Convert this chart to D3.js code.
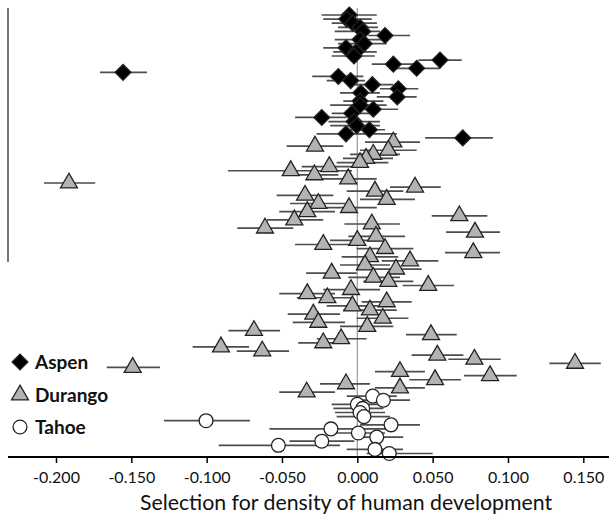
<!DOCTYPE html>
<html><head><meta charset="utf-8">
<script src="https://cdn.jsdelivr.net/npm/d3@7"></script>
<style>body{margin:0;background:#fff}svg{display:block}</style>
</head><body><svg id="c" width="609" height="518"></svg>
<script>
// ---- data (estimates: value, lower CI, upper CI), ordered top to bottom ----
const seriesNames = ["Aspen", "Durango", "Tahoe"];
const aspenVal = [-0.0053,-0.007,-0.003,0.0018,0.0036,0.0184,0.0018,0.0046,-0.0075,-0.0009,-0.0022,0.0549,0.0239,0.0394,-0.1555,-0.0126,-0.0044,0.010,0.0272,0.0023,0.0265,0.0018,0.0018,0.0106,-0.0037,-0.0236,-0.0022,-0.0004,0.008,-0.0075,0.070];
const aspenLo  = [-0.0237,-0.0226,-0.017,-0.0128,-0.015,0.0073,-0.015,-0.0128,-0.0226,-0.016,-0.017,0.0405,0.0096,0.025,-0.1708,-0.0299,-0.0203,-0.0027,0.015,-0.0115,0.0129,-0.0093,-0.018,-0.0004,-0.017,-0.0413,-0.0192,-0.018,-0.0082,-0.027,0.045];
const aspenHi  = [0.0129,0.0096,0.013,0.0137,0.015,0.035,0.0195,0.0195,0.0073,0.0129,0.0117,0.0693,0.0405,0.0549,-0.1396,0.004,0.0051,0.0239,0.0405,0.015,0.0394,0.0173,0.0195,0.0272,0.0129,-0.007,0.015,0.015,0.0184,0.0262,0.090];
const durangoVal = [0.0239,-0.0281,0.0206,0.0106,0.0058,0.0018,-0.0186,-0.0442,-0.0285,-0.006,-0.1914,0.0383,0.0117,-0.0347,0.0195,-0.0259,-0.0055,-0.0332,0.0677,-0.0418,0.0096,-0.0613,0.0781,0.0124,0.000,-0.0226,0.0184,0.077,0.0084,0.035,0.0051,0.0257,-0.017,0.0106,0.0206,0.0471,-0.0042,-0.0332,-0.0199,0.0195,-0.0033,0.0084,-0.0292,0.0169,-0.0259,0.0066,-0.0686,0.0489,-0.0108,-0.0226,-0.0905,-0.0631,0.0531,0.0777,0.1445,-0.1491,0.0283,0.0881,0.0516,-0.0075,0.0283,-0.0336];
const durangoLo  = [0.0051,-0.0469,0.0018,-0.0048,-0.0095,-0.0137,-0.0369,-0.0858,-0.0402,-0.0236,-0.2079,0.0217,-0.007,-0.0535,0.0018,-0.0447,-0.0226,-0.0518,0.0494,-0.0601,-0.0086,-0.0797,0.0589,-0.006,-0.0181,-0.0414,-0.0004,0.0582,-0.0104,0.0162,-0.0115,0.0062,-0.034,-0.006,0.004,0.0301,-0.0226,-0.0518,-0.0402,0.0029,-0.0203,-0.0093,-0.0462,-0.0004,-0.0429,-0.0115,-0.0856,0.0323,-0.027,-0.0392,-0.1093,-0.080,0.0361,0.0604,0.1275,-0.1663,0.0117,0.0708,0.0345,-0.0248,0.0117,-0.0518];
const durangoHi  = [0.0416,-0.0093,0.0394,0.0283,0.0237,0.0206,-0.0027,-0.0035,-0.0126,0.0129,-0.174,0.0554,0.0305,-0.0159,0.0383,-0.0082,0.0129,-0.0148,0.0863,-0.0226,0.0283,-0.0425,0.0947,0.0317,0.0173,-0.0048,0.0372,0.0947,0.0272,0.0538,0.0217,0.0427,-0.0004,0.0283,0.0372,0.0642,0.0151,-0.0148,-0.0027,0.0361,0.0151,0.0262,-0.0115,0.0339,-0.0082,0.0239,-0.0513,0.066,0.0062,-0.006,-0.0719,-0.0453,0.0704,0.0952,0.1616,-0.131,0.0449,0.1058,0.0688,0.0084,0.0449,-0.0148];
const tahoeVal = [0.0102,0.0173,0.000,0.0036,0.0018,0.0044,-0.1004,0.0224,-0.0175,0.0007,0.0129,-0.0236,-0.0524,0.0117,0.0212];
const tahoeLo  = [-0.007,0.0029,-0.017,-0.0159,-0.0148,-0.0137,-0.1283,0.0018,-0.0583,-0.016,0.003,-0.045,-0.092,-0.007,0.0062];
const tahoeHi  = [0.0262,0.035,0.015,0.0173,0.0184,0.0217,-0.0713,0.0416,0.023,0.0184,0.0305,-0.002,-0.0115,0.0303,0.050];
const tickValues = [-0.2,-0.15,-0.1,-0.05,0,0.05,0.1,0.15];
const axisTitle = "Selection for density of human development";

// ---- build rows ----
const rows = [];
[[aspenVal,aspenLo,aspenHi],[durangoVal,durangoLo,durangoHi],[tahoeVal,tahoeLo,tahoeHi]].forEach((s,si)=>{
  s[0].forEach((v,i)=>rows.push({series:seriesNames[si], v:v, lo:s[1][i], hi:s[2][i], id:rows.length}));
});

const svg = d3.select("#c");
const font = "Lato, 'Open Sans', sans-serif";
const x = d3.scaleLinear().domain([-0.2, 0.15]).range([56, 583.3]);
const y = d3.scalePoint().domain(rows.map(d=>d.id)).range([15, 453.5]);
const axisY = 457;

// left vertical line
svg.append("line").attr("x1",8).attr("x2",8).attr("y1",8).attr("y2",262)
  .attr("stroke","#555").attr("stroke-width",1.6);
// zero reference line
svg.append("line").attr("x1",x(0)).attr("x2",x(0)).attr("y1",8).attr("y2",axisY)
  .attr("stroke","#999").attr("stroke-width",1.2);

// error bars
svg.append("g").selectAll("line").data(rows).join("line")
  .attr("x1",d=>x(d.lo)).attr("x2",d=>x(d.hi))
  .attr("y1",d=>y(d.id)).attr("y2",d=>y(d.id))
  .attr("stroke","#4d4d4d").attr("stroke-width",1.7);

const shape = {Aspen:d3.symbolSquare, Durango:d3.symbolTriangle, Tahoe:d3.symbolCircle};
const size = {Aspen:125, Durango:125, Tahoe:150};
const fill = {Aspen:"#000", Durango:"#b3b3b3", Tahoe:"#fff"};
const rot = {Aspen:" rotate(45)", Durango:"", Tahoe:""};
const markers = svg.append("g");
rows.forEach(d=>{
  const sym = d3.symbol().type(shape[d.series]).size(size[d.series]);
  markers.append("path").attr("d", sym())
    .attr("transform", `translate(${x(d.v)},${y(d.id)})${rot[d.series]}`)
    .attr("fill", fill[d.series]).attr("stroke","#222").attr("stroke-width",1.3);
});

// x axis
const ax = svg.append("g").attr("transform",`translate(0,${axisY})`)
  .call(d3.axisBottom(x).tickValues(tickValues).tickFormat(d3.format(".3f")).tickSize(6).tickSizeOuter(0));
ax.select(".domain").attr("d",`M8,0H609`).attr("stroke","#000").attr("stroke-width",2);
ax.selectAll(".tick line").attr("stroke","#000").attr("stroke-width",1.5);
ax.selectAll(".tick text").attr("font-family",font).attr("font-size",16).attr("fill","#111").attr("dy","1.05em");
ax.selectAll(".tick text").text(d=>d3.format(".3f")(d).replace("−","-"));

svg.append("text").attr("x",346).attr("y",510).attr("text-anchor","middle")
  .attr("font-family",font).attr("font-size",21.3).attr("fill","#111").text(axisTitle);

// legend
const legY = [362, 395, 427];
seriesNames.forEach((n,i)=>{
  const sym = d3.symbol().type(shape[n]).size(size[n]);
  svg.append("path").attr("d",sym())
    .attr("transform", `translate(20,${legY[i]})${rot[n]}`)
    .attr("fill",fill[n]).attr("stroke","#222").attr("stroke-width",1.3);
  svg.append("text").attr("x",35).attr("y",legY[i]+7).attr("font-family",font)
    .attr("font-size",19).attr("font-weight","bold").attr("fill","#111").text(n);
});
</script></body></html>
